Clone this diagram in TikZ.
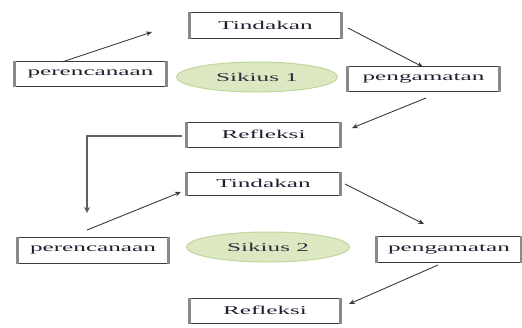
\documentclass[tikz,border=0pt]{standalone}
\usepackage{fontspec}
\setmainfont[FakeStretch=2.1]{Liberation Serif}
\usetikzlibrary{arrows.meta,shapes.geometric}
\definecolor{boxline}{HTML}{3A3A3A}
\definecolor{sidegray}{HTML}{8A8A8A}
\definecolor{elfill}{HTML}{DCE8C2}
\definecolor{elline}{HTML}{C2D59A}
\definecolor{txt}{HTML}{202030}
\tikzset{
  stagebox/.style={draw=boxline, line width=1pt, fill=white, rectangle, inner sep=0pt,
    font=\fontsize{12}{14}\selectfont, text=txt},
  cyclelabel/.style={ellipse, draw=elline, line width=1pt, fill=elfill, inner sep=0pt,
    font=\fontsize{12}{14}\selectfont, text=txt!85!gray},
  flow/.style={draw=boxline, line width=0.9pt, -{Stealth[length=6pt,width=5pt]}},
  backflow/.style={draw=sidegray!70!black, line width=1.6pt, -{Stealth[length=6pt,width=6pt]}},
  sideedge/.style={draw=sidegray, line width=2.2pt}
}
\newcommand{\boxsides}[1]{%
  \draw[sideedge] (#1.north west) -- (#1.south west);
  \draw[sideedge] (#1.north east) -- (#1.south east);}
\begin{document}
\begin{tikzpicture}[x=1pt,y=-1pt]
\useasboundingbox (0,0) rectangle (522,327);
% cycle 1
\node[stagebox, minimum width=151pt, minimum height=26pt] (t1) at (265.5,25) {Tindakan};
\node[stagebox, minimum width=151pt, minimum height=25pt] (p1) at (90.5,73.5) {perencanaan};
\node[cyclelabel, minimum width=161pt, minimum height=30pt] (s1) at (257,77) {Sikius 1};
\node[stagebox, minimum width=151pt, minimum height=25pt] (g1) at (423.5,78.5) {pengamatan};
\node[stagebox, minimum width=153pt, minimum height=25pt] (r1) at (263.5,134.5) {Refleksi};
% cycle 2
\node[stagebox, minimum width=153pt, minimum height=23pt] (t2) at (263.5,183.5) {Tindakan};
\node[stagebox, minimum width=150pt, minimum height=26pt] (p2) at (93,250) {perencanaan};
\node[cyclelabel, minimum width=163pt, minimum height=30pt] (s2) at (268,247) {Sikius 2};
\node[stagebox, minimum width=144pt, minimum height=26pt] (g2) at (449,249) {pengamatan};
\node[stagebox, minimum width=150pt, minimum height=25pt] (r2) at (265,310.5) {Refleksi};
\foreach \n in {t1,p1,g1,r1,t2,p2,g2,r2} {\boxsides{\n}}
% free arrow ends
\coordinate (a1s) at (62,62);   \coordinate (a1e) at (152,32);
\coordinate (a2s) at (348,28);  \coordinate (a2e) at (423,67);
\coordinate (a3s) at (426,98);  \coordinate (a3e) at (352,128);
\coordinate (a4s) at (182,136); \coordinate (a4c) at (87,136); \coordinate (a4e) at (87,213);
\coordinate (a5s) at (87,230);  \coordinate (a5e) at (181,192);
\coordinate (a6s) at (345,184); \coordinate (a6e) at (424,224);
\coordinate (a7s) at (438,265); \coordinate (a7e) at (349,304);
\draw[flow] (a1s) -- (a1e);
\draw[flow] (a2s) -- (a2e);
\draw[flow] (a3s) -- (a3e);
\draw[backflow] (a4s) -- (a4c) -- (a4e);
\draw[flow] (a5s) -- (a5e);
\draw[flow] (a6s) -- (a6e);
\draw[flow] (a7s) -- (a7e);
\end{tikzpicture}
\end{document}
